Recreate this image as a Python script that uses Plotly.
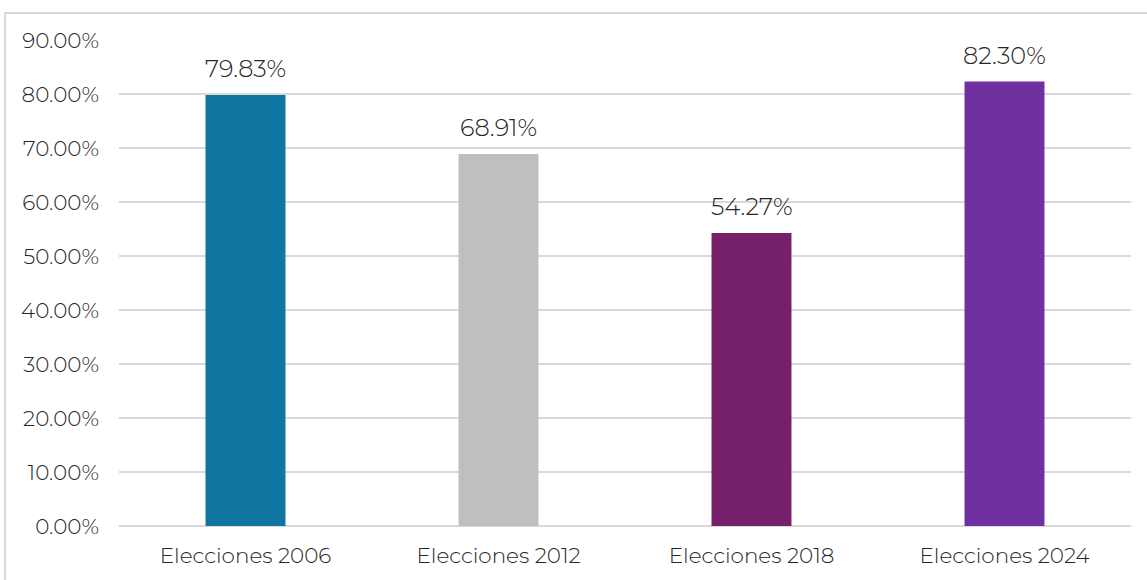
import plotly.graph_objects as go

categories = ["Elecciones 2006", "Elecciones 2012", "Elecciones 2018", "Elecciones 2024"]
values = [79.83, 68.91, 54.27, 82.30]
colors = ["#0E76A0", "#BFBFBF", "#76206C", "#7030A0"]
y_ticks = [0, 10, 20, 30, 40, 50, 60, 70, 80, 90]
y_tick_labels = [f"{v:.2f}%" for v in y_ticks]

FONT = "Montserrat, Noto Sans, sans-serif"

fig = go.Figure()
fig.add_trace(go.Bar(
    x=categories,
    y=values,
    marker=dict(color=colors, line=dict(width=0)),
    width=0.316,
    hoverinfo="skip",
))

for c, v in zip(categories, values):
    fig.add_annotation(
        x=c, y=v, text=f"{v:.2f}%", showarrow=False,
        yanchor="bottom", yshift=10,
        font=dict(family=FONT, size=24, color="#262626", weight=300),
    )

# outer chart frame
fig.add_shape(
    type="rect", xref="paper", yref="paper",
    x0=-0.1125, x1=1.2, y0=-0.3, y1=1.0556,
    line=dict(color="#D9D9D9", width=2), fillcolor="rgba(0,0,0,0)",
    layer="below",
)

fig.update_layout(
    width=1147, height=580,
    margin=dict(l=119, r=16, t=40, b=54),
    paper_bgcolor="white", plot_bgcolor="white",
    showlegend=False,
    font=dict(family=FONT, size=21.5, color="#262626", weight=300),
    xaxis=dict(
        showgrid=False, showline=False, zeroline=False,
        ticks="", tickfont=dict(size=21.5, weight=300), ticklabelstandoff=14,
    ),
    yaxis=dict(
        range=[0, 90], tickvals=y_ticks, ticktext=y_tick_labels,
        showgrid=True, gridcolor="#D9D9D9", gridwidth=2,
        zeroline=True, zerolinecolor="#D9D9D9", zerolinewidth=2,
        showline=False, ticks="", tickfont=dict(size=21.5, weight=300),
        ticklabelstandoff=19,
    ),
)

fig.write_html("out.html")
